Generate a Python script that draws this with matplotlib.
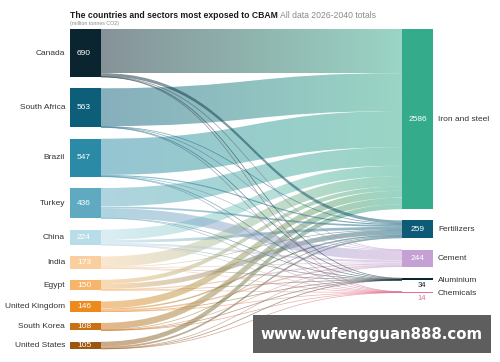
import numpy as np
import matplotlib
matplotlib.use('Agg')
import matplotlib.pyplot as plt
from matplotlib.path import Path
from matplotlib.patches import PathPatch, Rectangle
from matplotlib.collections import LineCollection
from matplotlib.colors import to_rgb

countries = ['Canada', 'South Africa', 'Brazil', 'Turkey', 'China', 'India',
             'Egypt', 'United Kingdom', 'South Korea', 'United States']
country_totals = [690, 563, 547, 436, 224, 173, 150, 146, 108, 105]
country_colors = ['#0b2530', '#0d5e79', '#2b8aa6', '#5fa9c1', '#b9dde8',
                  '#f9cfa0', '#f5b56b', '#ec8a1e', '#c96f14', '#9c560f']

sectors = ['Iron and steel', 'Fertilizers', 'Cement', 'Aluminium', 'Chemicals']
sector_totals = [2586, 259, 244, 34, 14]
sector_colors = ['#34ab8b', '#0e5b78', '#c4a0d4', '#0b2530', '#e2708f']

# country -> sector (estimated), columns in sector order
flows = np.array([
    [634, 45, 5, 5, 1],
    [545, 5, 4, 8, 1],
    [520, 16, 5, 4, 2],
    [265, 25, 140, 4, 2],
    [150, 40, 30, 2, 2],
    [150, 5, 12, 4, 2],
    [60, 70, 18, 1, 1],
    [100, 20, 23, 2, 1],
    [95, 6, 5, 1, 1],
    [70, 25, 5, 3, 2],
])

W, H = 500, 362
fig = plt.figure(figsize=(5, 3.62), dpi=100)
ax = fig.add_axes([0, 0, 1, 1])
ax.set_xlim(0, W)
ax.set_ylim(H, 0)
ax.axis('off')

top, bottom = 29, 349
gap = 11.26
scale = (bottom - top - gap * (len(countries) - 1)) / sum(country_totals)
lx0, lx1 = 70, 101
rx0, rx1 = 402, 433
font = 'Liberation Sans'

# node positions
left_y = []
y = top
for v in country_totals:
    left_y.append(y)
    y += v * scale + gap
right_h = flows.sum(axis=0) * scale
right_y = []
y = top
for h in right_h:
    right_y.append(y)
    y += h + gap


def bez(x0, y0, x1, y1, n=60):
    t = np.linspace(0, 1, n)
    xm = (x0 + x1) / 2
    xs = (1-t)**3*x0 + 3*(1-t)**2*t*xm + 3*(1-t)*t**2*xm + t**3*x1
    ys = (1-t)**3*y0 + 3*(1-t)**2*t*y0 + 3*(1-t)*t**2*y1 + t**3*y1
    return xs, ys


src_off = list(left_y)
tgt_off = list(right_y)
ribbons = []
for i in range(len(countries)):
    for j in range(len(sectors)):
        h = flows[i, j] * scale
        ribbons.append((j, i, src_off[i], tgt_off[j], h))
        src_off[i] += h
for j in range(len(sectors)):
    pass
# recompute target offsets in source order per sector
tgt_pos = {}
for j in range(len(sectors)):
    y = right_y[j]
    for i in range(len(countries)):
        tgt_pos[(i, j)] = y
        y += flows[i, j] * scale

ribbons.sort(key=lambda r: (r[0] != 0, r[0]))
for j, i, sy, _, h in ribbons:
    ty = tgt_pos[(i, j)]
    c0 = np.array(to_rgb(country_colors[i]))
    c1 = np.array(to_rgb(sector_colors[j]))
    if h >= 1.5:
        verts = [(lx1, sy), ((lx1+rx0)/2, sy), ((lx1+rx0)/2, ty), (rx0, ty),
                 (rx0, ty + h), ((lx1+rx0)/2, ty + h), ((lx1+rx0)/2, sy + h),
                 (lx1, sy + h), (lx1, sy)]
        codes = [Path.MOVETO, Path.CURVE4, Path.CURVE4, Path.CURVE4,
                 Path.LINETO, Path.CURVE4, Path.CURVE4, Path.CURVE4,
                 Path.CLOSEPOLY]
        patch = PathPatch(Path(verts, codes), facecolor='none', edgecolor='none')
        ax.add_patch(patch)
        f = np.linspace(0, 1, 256)[:, None]
        img = np.zeros((1, 256, 4))
        img[0, :, :3] = c0 * (1 - f) + c1 * f
        img[0, :, 3] = 0.5
        ymin = min(sy, ty)
        ymax = max(sy, ty) + h
        im = ax.imshow(img, extent=[lx1, rx0, ymax, ymin], aspect='auto',
                       interpolation='bilinear', zorder=2)
        im.set_clip_path(patch)
    else:
        xs, ys = bez(lx1, sy + h / 2, rx0, ty + h / 2)
        pts = np.column_stack([xs, ys]).reshape(-1, 1, 2)
        segs = np.concatenate([pts[:-1], pts[1:]], axis=1)
        f = np.linspace(0, 1, len(segs))[:, None]
        cols = np.zeros((len(segs), 4))
        cols[:, :3] = c0 * (1 - f) + c1 * f
        cols[:, 3] = 0.55
        lw = max(h, 0.7) * 0.72
        ax.add_collection(LineCollection(segs, colors=cols, linewidths=lw,
                                         zorder=3))

# nodes
for i, name in enumerate(countries):
    h = country_totals[i] * scale
    ax.add_patch(Rectangle((lx0, left_y[i]), lx1 - lx0, h,
                           color=country_colors[i], zorder=4, lw=0))
    yc = left_y[i] + h / 2
    ax.text(65, yc, name, ha='right', va='center', fontsize=6,
            color='#333333', family=font)
    ax.text(77, yc, str(country_totals[i]), ha='left', va='center',
            fontsize=6, color='white', family=font, zorder=5)

for j, name in enumerate(sectors):
    h = max(right_h[j], 1.2)
    ax.add_patch(Rectangle((rx0, right_y[j]), rx1 - rx0, h,
                           color=sector_colors[j], zorder=4, lw=0))
    yc = right_y[j] + h / 2
    if right_h[j] > 8:
        ax.text((rx0 + rx1) / 2, yc, str(sector_totals[j]), ha='center',
                va='center', fontsize=6, color='white', family=font, zorder=5)
        ax.text(438, yc, name, ha='left', va='center', fontsize=6,
                color='#333333', family=font)
    else:
        ax.text(422, right_y[j] + h + 5.5, str(sector_totals[j]), ha='center',
                va='center', fontsize=5.5, color=sector_colors[j], family=font)
        ax.text(438, yc + 1, name, ha='left', va='center', fontsize=6,
                color='#333333', family=font)

# title
t1 = ax.text(70, 15, 'The countries and sectors most exposed to CBAM',
             fontsize=6.2, fontweight='bold', color='#1a1a1a', family=font,
             va='center')
fig.canvas.draw()
bb = t1.get_window_extent().transformed(ax.transData.inverted())
ax.text(bb.x1 + 2, 15, 'All data 2026-2040 totals', fontsize=6.2,
        color='#8a8a8a', family=font, va='center')
ax.text(70, 24, '(million tonnes CO2)', fontsize=3.8, color='#8a8a8a',
        family=font, va='center')

# watermark
ax.add_patch(Rectangle((253, 315), 238, 38, color='#5e5e5e', zorder=10, lw=0))
ax.text(372, 334.5, 'www.wufengguan888.com', ha='center', va='center',
        fontsize=10.8, fontweight='bold', color='white', zorder=11,
        family='DejaVu Sans')

fig.savefig('out.png', dpi=100)
